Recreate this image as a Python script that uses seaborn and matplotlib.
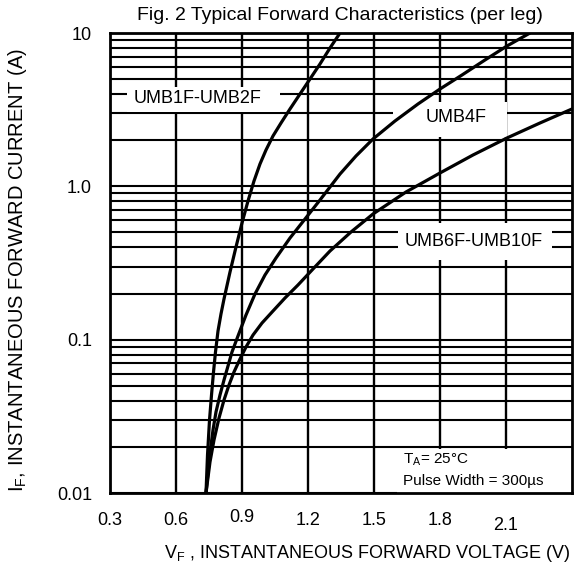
import numpy as np
import pandas as pd
import matplotlib
matplotlib.use("Agg")
import matplotlib.pyplot as plt
import matplotlib.ticker as mticker
import matplotlib.transforms as mtransforms
from matplotlib.patches import Rectangle
import seaborn as sns

# ---- data ----
v_umb1 = [0.7364, 0.7432, 0.7523, 0.7614, 0.7705, 0.7795, 0.7909, 0.8045, 0.8182, 0.8455, 0.8727,
          0.9000, 0.9273, 0.9545, 0.9818, 1.0091, 1.0409, 1.0773, 1.1182, 1.1636, 1.2091, 1.2545,
          1.3000, 1.3455]
i_umb1 = [0.0100, 0.01769, 0.02993, 0.04357, 0.06153, 0.08311, 0.1139, 0.1471, 0.1842, 0.2762, 0.4021,
          0.5768, 0.8026, 1.083, 1.399, 1.726, 2.130, 2.589, 3.195, 4.002, 5.012, 6.280,
          7.984, 10.0]

v_umb4 = [0.7364, 0.7545, 0.7682, 0.7818, 0.8000, 0.8182, 0.8364, 0.8545, 0.8818, 0.9182, 0.9591,
          1.0045, 1.0545, 1.1182, 1.1864, 1.2545, 1.3455, 1.4182, 1.4955, 1.5955, 1.7000, 1.8000,
          1.9000, 2.0045, 2.1045, 2.2091]
i_umb4 = [0.0100, 0.01824, 0.02576, 0.03376, 0.04357, 0.05458, 0.06734, 0.08311, 0.1057, 0.1449, 0.1986,
          0.2641, 0.3409, 0.4603, 0.6123, 0.8146, 1.203, 1.577, 2.036, 2.668, 3.444, 4.313,
          5.322, 6.668, 8.229, 10.0]

v_umb6 = [0.7364, 0.7545, 0.7727, 0.7955, 0.8182, 0.8409, 0.8636, 0.8909, 0.9182, 0.9500, 0.9909,
          1.0409, 1.0955, 1.1545, 1.2227, 1.3000, 1.3955, 1.4955, 1.6455, 1.8000, 1.9500, 2.1045,
          2.2545, 2.4000]
i_umb6 = [0.0100, 0.01593, 0.02216, 0.03084, 0.04042, 0.05063, 0.06153, 0.07478, 0.08960, 0.1072, 0.1284,
          0.1538, 0.1870, 0.2273, 0.2890, 0.3787, 0.5038, 0.6602, 0.9186, 1.222, 1.601, 2.067,
          2.589, 3.195]

series_names = ["UMB1F-UMB2F", "UMB4F", "UMB6F-UMB10F"]
label_pos_v = [0.6977, 1.8727, 1.9545]
label_pos_i = [3.712, 2.791, 0.44]

x_ticks = [0.3, 0.6, 0.9, 1.2, 1.5, 1.8, 2.1]
x_ticklabels = ["0.3", "0.6", "0.9", "1.2", "1.5", "1.8", "2.1"]
x_grid = [0.6, 0.9, 1.2, 1.5, 1.8, 2.1]
y_ticks = [0.01, 0.1, 1.0, 10.0]
y_ticklabels = ["0.01", "0.1", "1.0", "10"]

title = "Fig. 2 Typical Forward Characteristics (per leg)"
xlabel = r"V$_\mathregular{F}$ , INSTANTANEOUS FORWARD VOLTAGE (V)"
ylabel = r"I$_\mathregular{F}$, INSTANTANEOUS FORWARD CURRENT (A)"
note_line1 = r"T$_\mathregular{A}$= 25°C"
note_line2 = "Pulse Width = 300µs"

# ---- build table ----
df = pd.concat([
    pd.DataFrame({"V": v_umb1, "I": i_umb1, "part": series_names[0]}),
    pd.DataFrame({"V": v_umb4, "I": i_umb4, "part": series_names[1]}),
    pd.DataFrame({"V": v_umb6, "I": i_umb6, "part": series_names[2]}),
], ignore_index=True)

sns.set_theme(style="white")
plt.rcParams["font.family"] = ["Liberation Sans", "DejaVu Sans"]
plt.rcParams["mathtext.fontset"] = "custom"
plt.rcParams["mathtext.rm"] = "Liberation Sans"

fig = plt.figure(figsize=(5.79, 5.74), dpi=100)
ax = fig.add_axes([110/579, 1-493/574, 462/579, 460/574])

sns.lineplot(data=df, x="V", y="I", hue="part", units="part", estimator=None,
             sort=False, palette=["black"]*3, linewidth=2.3, legend=False,
             ax=ax, zorder=4, solid_joinstyle="round", solid_capstyle="round")

ax.set_yscale("log")
ax.set_xlim(0.3, 2.4)
ax.set_ylim(0.01, 10)

# grid
for xv in x_grid:
    ax.axvline(xv, color="black", lw=1.7, zorder=1)
ax.yaxis.set_major_locator(mticker.FixedLocator(y_ticks))
ax.yaxis.set_minor_locator(mticker.LogLocator(base=10, subs=np.arange(2, 10)))
ax.yaxis.set_minor_formatter(mticker.NullFormatter())
ax.grid(True, which="both", axis="y", color="black", lw=1.5)
ax.set_axisbelow(True)

ax.set_xticks(x_ticks)
ax.set_xticklabels(x_ticklabels)
ax.set_yticklabels(y_ticklabels)
ax.tick_params(axis="both", which="both", length=0, labelsize=13, colors="black")
ax.tick_params(axis="x", pad=14)
ax.tick_params(axis="y", pad=13)

# small vertical quirks of the original tick labels
shifts = {"0.9": 3, "2.1": -5}
for lab in ax.get_xticklabels():
    dy = shifts.get(lab.get_text(), 0)
    if dy:
        lab.set_transform(lab.get_transform() +
                          mtransforms.ScaledTranslation(0, dy/100, fig.dpi_scale_trans))

for s in ax.spines.values():
    s.set_visible(True)
    s.set_color("black")
    s.set_linewidth(2.0)
    s.set_zorder(6)

ax.set_xlabel("")
ax.set_ylabel("")

# white label boxes (axes fraction: x0, y0, w, h)
boxes = [(0.0368, 0.828, 0.3312, 0.055),
         (0.6126, 0.774, 0.2467, 0.076),
         (0.6234, 0.5065, 0.3333, 0.0805),
         (0.6212, 0.0, 0.3788, 0.0957)]
for (bx, by, bw, bh) in boxes:
    ax.add_patch(Rectangle((bx, by), bw, bh, transform=ax.transAxes,
                           facecolor="white", edgecolor="none", zorder=2.5))

for name, xv, yv in zip(series_names, label_pos_v, label_pos_i):
    ax.text(xv, yv, name, ha="center", va="center", fontsize=13, color="black", zorder=3)

ax.text(0.634, 0.0717, note_line1, transform=ax.transAxes, ha="left", va="center",
        fontsize=11, color="black", zorder=3)
ax.text(0.634, 0.026, note_line2, transform=ax.transAxes, ha="left", va="center",
        fontsize=11, color="black", zorder=3)

fig.text(340/579, 1-16/574, title, ha="center", va="center", fontsize=14, color="black")
fig.text(367/579, 1-553/574, xlabel, ha="center", va="center", fontsize=13, color="black")
fig.text(18/579, 1-270/574, ylabel, ha="center", va="center", rotation=90, fontsize=14.5, color="black")

fig.savefig("out.png", dpi=100, facecolor="white")
